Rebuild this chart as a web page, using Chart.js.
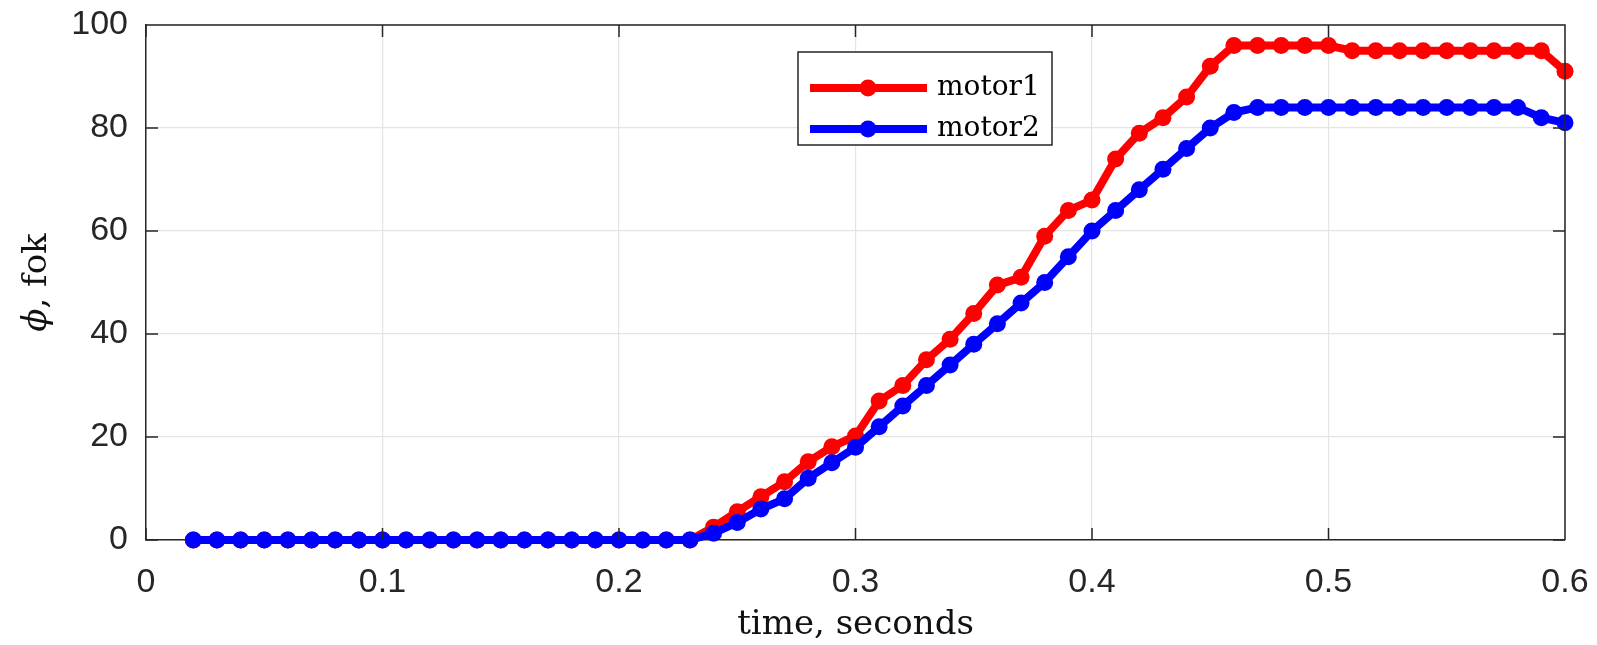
<!DOCTYPE html>
<html>
<head>
<meta charset="utf-8">
<script src="https://cdn.jsdelivr.net/npm/chart.js@4.4.1/dist/chart.umd.min.js"></script>
<style>
    html, body { margin: 0; padding: 0; background: #fff; }
    #wrap { width: 1597px; height: 645px; }
</style>
</head>
<body>
<div id="wrap"><canvas id="motor-chart" width="1597" height="645"></canvas></div>
<script>
// time axis (seconds)
const times = [
    0.02, 0.03, 0.04, 0.05, 0.06, 0.07, 0.08, 0.09, 0.10, 0.11,
    0.12, 0.13, 0.14, 0.15, 0.16, 0.17, 0.18, 0.19, 0.20, 0.21,
    0.22, 0.23, 0.24, 0.25, 0.26, 0.27, 0.28, 0.29, 0.30, 0.31,
    0.32, 0.33, 0.34, 0.35, 0.36, 0.37, 0.38, 0.39, 0.40, 0.41,
    0.42, 0.43, 0.44, 0.45, 0.46, 0.47, 0.48, 0.49, 0.50, 0.51,
    0.52, 0.53, 0.54, 0.55, 0.56, 0.57, 0.58, 0.59, 0.60,
];

const motor1 = [
    0, 0, 0, 0, 0, 0, 0, 0, 0, 0,
    0, 0, 0, 0, 0, 0, 0, 0, 0, 0,
    0, 0, 2.5, 5.5, 8.4, 11.3, 15.2, 18.1, 20.2, 27,
    30, 35, 39, 44, 49.5, 51, 59, 64, 66, 74,
    79, 82, 86, 92, 96, 96, 96, 96, 96, 95,
    95, 95, 95, 95, 95, 95, 95, 95, 91,
];

const motor2 = [
    0, 0, 0, 0, 0, 0, 0, 0, 0, 0,
    0, 0, 0, 0, 0, 0, 0, 0, 0, 0,
    0, 0, 1.3, 3.4, 6, 8, 12, 15, 18, 22,
    26, 30, 34, 38, 42, 46, 50, 55, 60, 64,
    68, 72, 76, 80, 83, 84, 84, 84, 84, 84,
    84, 84, 84, 84, 84, 84, 84, 82, 81,
];

const seriesNames = ['motor1', 'motor2'];
const seriesColors = ['#ff0000', '#0000ff'];
const xTicks = [0, 0.1, 0.2, 0.3, 0.4, 0.5, 0.6];
const yTicks = [0, 20, 40, 60, 80, 100];

const AXIS_COLOR = '#262626';
const TICK_FONT = { family: "'Liberation Sans', Arial, sans-serif", size: 34 };
const SERIF = "'DejaVu Serif', serif";

const toPoints = (ys) => times.map((t, i) => ({ x: t, y: ys[i] }));

// box, inner ticks, legend and axis titles in the MATLAB style
const matlabFrame = {
    id: 'matlabFrame',
    afterDraw(chart) {
        const { ctx, chartArea: a, scales } = chart;
        const tickLen = 12;
        ctx.save();
        ctx.strokeStyle = AXIS_COLOR;
        ctx.lineWidth = 1.5;

        ctx.beginPath();
        ctx.moveTo(a.left, a.top);
        ctx.lineTo(a.right, a.top);
        ctx.lineTo(a.right, a.bottom);
        xTicks.forEach(v => {
            const px = scales.x.getPixelForValue(v);
            ctx.moveTo(px, a.bottom); ctx.lineTo(px, a.bottom - tickLen);
            ctx.moveTo(px, a.top); ctx.lineTo(px, a.top + tickLen);
        });
        yTicks.forEach(v => {
            const py = scales.y.getPixelForValue(v);
            ctx.moveTo(a.left, py); ctx.lineTo(a.left + tickLen, py);
            ctx.moveTo(a.right, py); ctx.lineTo(a.right - tickLen, py);
        });
        ctx.stroke();

        // legend
        const box = { x: 798, y: 52, w: 254, h: 93 };
        ctx.fillStyle = '#fff';
        ctx.fillRect(box.x, box.y, box.w, box.h);
        ctx.strokeRect(box.x, box.y, box.w, box.h);
        chart.data.datasets.forEach((ds, i) => {
            const cy = box.y + 36 + i * 41;
            ctx.strokeStyle = ds.borderColor;
            ctx.lineWidth = ds.borderWidth;
            ctx.beginPath();
            ctx.moveTo(box.x + 12, cy);
            ctx.lineTo(box.x + 129, cy);
            ctx.stroke();
            ctx.fillStyle = ds.borderColor;
            ctx.beginPath();
            ctx.arc(box.x + 70, cy, ds.pointRadius, 0, Math.PI * 2);
            ctx.fill();
            ctx.fillStyle = '#000';
            ctx.font = `28px ${SERIF}`;
            ctx.textBaseline = 'middle';
            ctx.textAlign = 'left';
            ctx.fillText(ds.label, box.x + 139, cy);
        });

        // axis titles
        ctx.fillStyle = '#111';
        ctx.font = `34px ${SERIF}`;
        ctx.textAlign = 'center';
        ctx.textBaseline = 'alphabetic';
        ctx.fillText('time, seconds', (a.left + a.right) / 2, 634);

        ctx.translate(46, (a.top + a.bottom) / 2);
        ctx.rotate(-Math.PI / 2);
        const phi = 'ϕ';
        const rest = ', fok';
        ctx.font = `italic 34px ${SERIF}`;
        const wPhi = ctx.measureText(phi).width;
        ctx.font = `34px ${SERIF}`;
        const wRest = ctx.measureText(rest).width;
        const start = -(wPhi + wRest) / 2;
        ctx.textAlign = 'left';
        ctx.font = `italic 34px ${SERIF}`;
        ctx.fillText(phi, start, 0);
        ctx.font = `34px ${SERIF}`;
        ctx.fillText(rest, start + wPhi, 0);
        ctx.restore();
    },
};

new Chart(document.getElementById('motor-chart'), {
    type: 'line',
    data: {
        datasets: [motor1, motor2].map((ys, i) => ({
            label: seriesNames[i],
            data: toPoints(ys),
            borderColor: seriesColors[i],
            backgroundColor: seriesColors[i],
            pointBackgroundColor: seriesColors[i],
            borderWidth: 8,
            pointRadius: 8.5,
            pointBorderWidth: 0,
            tension: 0,
            clip: false,
            order: 1 - i,
        })),
    },
    options: {
        responsive: false,
        animation: false,
        devicePixelRatio: 1,
        layout: { padding: { top: 25, right: 32, left: 0, bottom: 0 } },
        plugins: {
            legend: { display: false },
            tooltip: { enabled: false },
        },
        scales: {
            x: {
                type: 'linear',
                min: 0,
                max: 0.6,
                afterBuildTicks: (s) => { s.ticks = xTicks.map(v => ({ value: v })); },
                afterFit: (s) => {
                    s.height = 105;
                    s.paddingLeft = 0;
                    s.paddingRight = 0;
                },
                ticks: {
                    color: AXIS_COLOR,
                    font: TICK_FONT,
                    padding: 22,
                    maxRotation: 0,
                    callback: (val) => String(+val.toFixed(1)),
                },
                grid: { color: '#e4e4e4', lineWidth: 1.2, drawTicks: false },
                border: { color: AXIS_COLOR, width: 1.5 },
            },
            y: {
                min: 0,
                max: 100,
                afterBuildTicks: (s) => { s.ticks = yTicks.map(v => ({ value: v })); },
                afterFit: (s) => {
                    s.width = 146;
                    s.paddingTop = 0;
                    s.paddingBottom = 0;
                },
                ticks: {
                    color: AXIS_COLOR,
                    font: TICK_FONT,
                    padding: 18,
                },
                grid: { color: '#e4e4e4', lineWidth: 1.2, drawTicks: false },
                border: { color: AXIS_COLOR, width: 1.5 },
            },
        },
    },
    plugins: [matlabFrame],
});
</script>
</body>
</html>
